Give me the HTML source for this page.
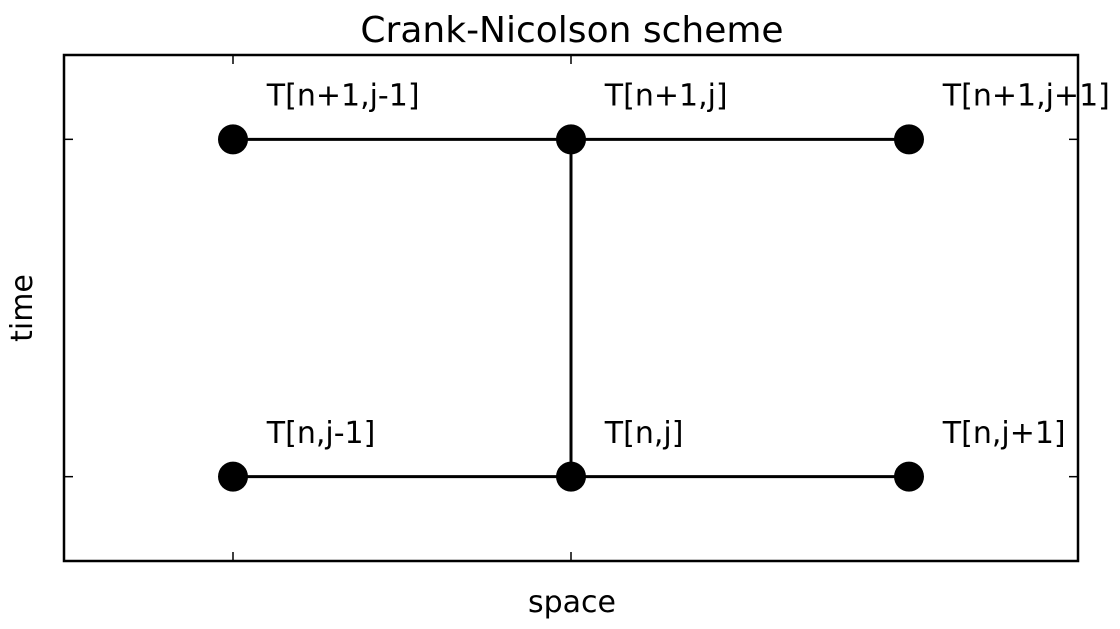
<!DOCTYPE html>
<html><head><meta charset="utf-8"><style>
body{margin:0;background:#fff;}
svg{display:block;font-family:"DejaVu Sans","Liberation Sans",sans-serif;}
</style></head><body>
<svg id="chart" width="1120" height="629" viewBox="0 0 1120 629">
<text x="572" y="42" font-size="36" text-anchor="middle">Crank-Nicolson scheme</text>
<text x="572" y="612" font-size="30" text-anchor="middle">space</text>
<text x="0" y="0" font-size="30" text-anchor="middle" transform="translate(32,308) rotate(-90)">time</text>
<g id="ticks"></g>
<g id="lines"></g>
<g id="points"></g>
<g id="labels"></g>
<rect x="64" y="55" width="1014" height="506" fill="none" stroke="#000" stroke-width="2.5"/>
</svg>
<script>
const xs=[1,2,3,1,2,3];
const ys=[1,1,1,0,0,0];
const names=["T[n+1,j-1]","T[n+1,j]","T[n+1,j+1]","T[n,j-1]","T[n,j]","T[n,j+1]"];
const segments=[[0,1],[1,2],[3,4],[4,5],[1,4]];
const xTicks=[1,2];
const yTicks=[0,1];
const L=64,R=1078,T=55,B=561;
const xmin=0.5,xmax=3.5,ymin=-0.25,ymax=1.25;
const sx=v=>L+(v-xmin)/(xmax-xmin)*(R-L);
const sy=v=>B-(v-ymin)/(ymax-ymin)*(B-T);
const NS="http://www.w3.org/2000/svg";
function mk(tag,attrs,parent){const e=document.createElementNS(NS,tag);for(const k in attrs)e.setAttribute(k,attrs[k]);document.getElementById(parent).appendChild(e);return e;}
xTicks.forEach(t=>{
 let e=mk("line",{x1:sx(t),x2:sx(t),y1:B,y2:B-9,stroke:"#000","stroke-width":1.5},"ticks");
 
 
 e=mk("line",{x1:sx(t),x2:sx(t),y1:T,y2:T+9,stroke:"#000","stroke-width":1.5},"ticks");
 
 
});
yTicks.forEach(t=>{
 let e=mk("line",{x1:L,x2:L+9,y1:sy(t),y2:sy(t),stroke:"#000","stroke-width":1.5},"ticks");
 
 
 e=mk("line",{x1:R,x2:R-9,y1:sy(t),y2:sy(t),stroke:"#000","stroke-width":1.5},"ticks");
 
 
});
segments.forEach(([a,b])=>{
 const e=mk("line",{x1:sx(xs[a]),y1:sy(ys[a]),x2:sx(xs[b]),y2:sy(ys[b]),stroke:"#000","stroke-width":3},"lines");
 
 
});
xs.forEach((x,i)=>{
 const c=mk("circle",{cx:sx(x),cy:sy(ys[i]),r:15,fill:"#000"},"points");
 
 
 const t=mk("text",{x:sx(x+0.1),y:sy(ys[i]+0.1),"font-size":30},"labels");
 t.textContent=names[i];
 
 
});
</script>
</body></html>
